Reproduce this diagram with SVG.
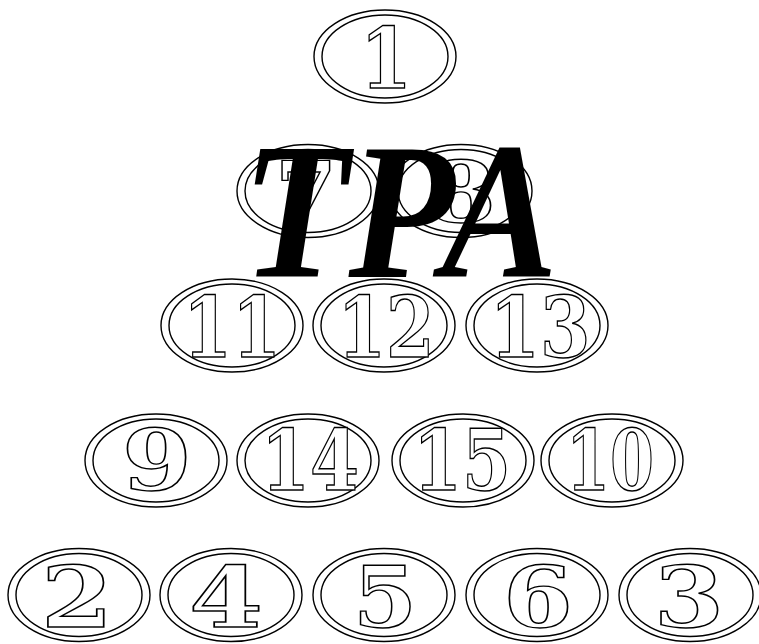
<svg xmlns="http://www.w3.org/2000/svg" width="759" height="644" viewBox="0 0 759 644">
<style>
.o{fill:none;stroke:#000;stroke-width:1.4}
.l{font-family:"DejaVu Serif","Liberation Serif",serif;font-weight:bold;font-size:84px;fill:#fff;stroke:#000;stroke-width:1.4;text-anchor:middle}
.big{font-family:"Liberation Serif","Times New Roman",serif;font-style:italic;font-weight:bold;font-size:196px;fill:#000}
</style>
<rect width="759" height="644" fill="#fff"/>
<g id="connectors"/>
<g id="n1"><ellipse class="o" cx="385" cy="56.5" rx="71" ry="46.5"/><ellipse class="o" cx="385" cy="56.5" rx="63" ry="41.5"/><text class="l" x="386" y="88" textLength="52" lengthAdjust="spacingAndGlyphs">1</text></g>
<g id="n7"><ellipse class="o" cx="308" cy="191" rx="71" ry="46.5"/><ellipse class="o" cx="308" cy="191" rx="63" ry="41.5"/><text class="l" x="306" y="222" textLength="62" lengthAdjust="spacingAndGlyphs">7</text></g>
<g id="n8"><ellipse class="o" cx="461" cy="191" rx="71" ry="46.5"/><ellipse class="o" cx="461" cy="191" rx="63" ry="41.5"/><text class="l" x="461" y="222" textLength="70" lengthAdjust="spacingAndGlyphs">8</text></g>
<g id="n11"><ellipse class="o" cx="232" cy="325.5" rx="71" ry="46.5"/><ellipse class="o" cx="232" cy="325.5" rx="63" ry="41.5"/><text class="l" x="232" y="357" textLength="98" lengthAdjust="spacingAndGlyphs">11</text></g>
<g id="n12"><ellipse class="o" cx="384" cy="325.5" rx="71" ry="46.5"/><ellipse class="o" cx="384" cy="325.5" rx="63" ry="41.5"/><text class="l" x="386" y="357" textLength="97" lengthAdjust="spacingAndGlyphs">12</text></g>
<g id="n13"><ellipse class="o" cx="537" cy="325.5" rx="71" ry="46.5"/><ellipse class="o" cx="537" cy="325.5" rx="63" ry="41.5"/><text class="l" x="540" y="357" textLength="101" lengthAdjust="spacingAndGlyphs">13</text></g>
<g id="n9"><ellipse class="o" cx="156" cy="460.5" rx="71" ry="46.5"/><ellipse class="o" cx="156" cy="460.5" rx="63" ry="41.5"/><text class="l" x="157" y="490" textLength="70" lengthAdjust="spacingAndGlyphs">9</text></g>
<g id="n14"><ellipse class="o" cx="308" cy="460.5" rx="71" ry="46.5"/><ellipse class="o" cx="308" cy="460.5" rx="63" ry="41.5"/><text class="l" x="310" y="490" textLength="98" lengthAdjust="spacingAndGlyphs">14</text></g>
<g id="n15"><ellipse class="o" cx="463" cy="460.5" rx="71" ry="46.5"/><ellipse class="o" cx="463" cy="460.5" rx="63" ry="41.5"/><text class="l" x="462" y="490" textLength="98" lengthAdjust="spacingAndGlyphs">15</text></g>
<g id="n10"><ellipse class="o" cx="612" cy="460.5" rx="71" ry="46.5"/><ellipse class="o" cx="612" cy="460.5" rx="63" ry="41.5"/><text class="l" x="610" y="490" textLength="88" lengthAdjust="spacingAndGlyphs">10</text></g>
<g id="n2"><ellipse class="o" cx="79" cy="595" rx="71" ry="46.5"/><ellipse class="o" cx="79" cy="595" rx="63" ry="41.5"/><text class="l" x="77" y="627" textLength="72" lengthAdjust="spacingAndGlyphs">2</text></g>
<g id="n4"><ellipse class="o" cx="231" cy="595" rx="71" ry="46.5"/><ellipse class="o" cx="231" cy="595" rx="63" ry="41.5"/><text class="l" x="226" y="627" textLength="74" lengthAdjust="spacingAndGlyphs">4</text></g>
<g id="n5"><ellipse class="o" cx="384" cy="595" rx="71" ry="46.5"/><ellipse class="o" cx="384" cy="595" rx="63" ry="41.5"/><text class="l" x="385" y="627" textLength="64" lengthAdjust="spacingAndGlyphs">5</text></g>
<g id="n6"><ellipse class="o" cx="537" cy="595" rx="71" ry="46.5"/><ellipse class="o" cx="537" cy="595" rx="63" ry="41.5"/><text class="l" x="538" y="627" textLength="70" lengthAdjust="spacingAndGlyphs">6</text></g>
<g id="n3"><ellipse class="o" cx="690" cy="595" rx="71" ry="46.5"/><ellipse class="o" cx="690" cy="595" rx="63" ry="41.5"/><text class="l" x="689" y="627" textLength="70" lengthAdjust="spacingAndGlyphs">3</text></g>
<g id="title"><text class="big" x="242" y="277" textLength="316" lengthAdjust="spacingAndGlyphs">TPA</text></g>
</svg>
